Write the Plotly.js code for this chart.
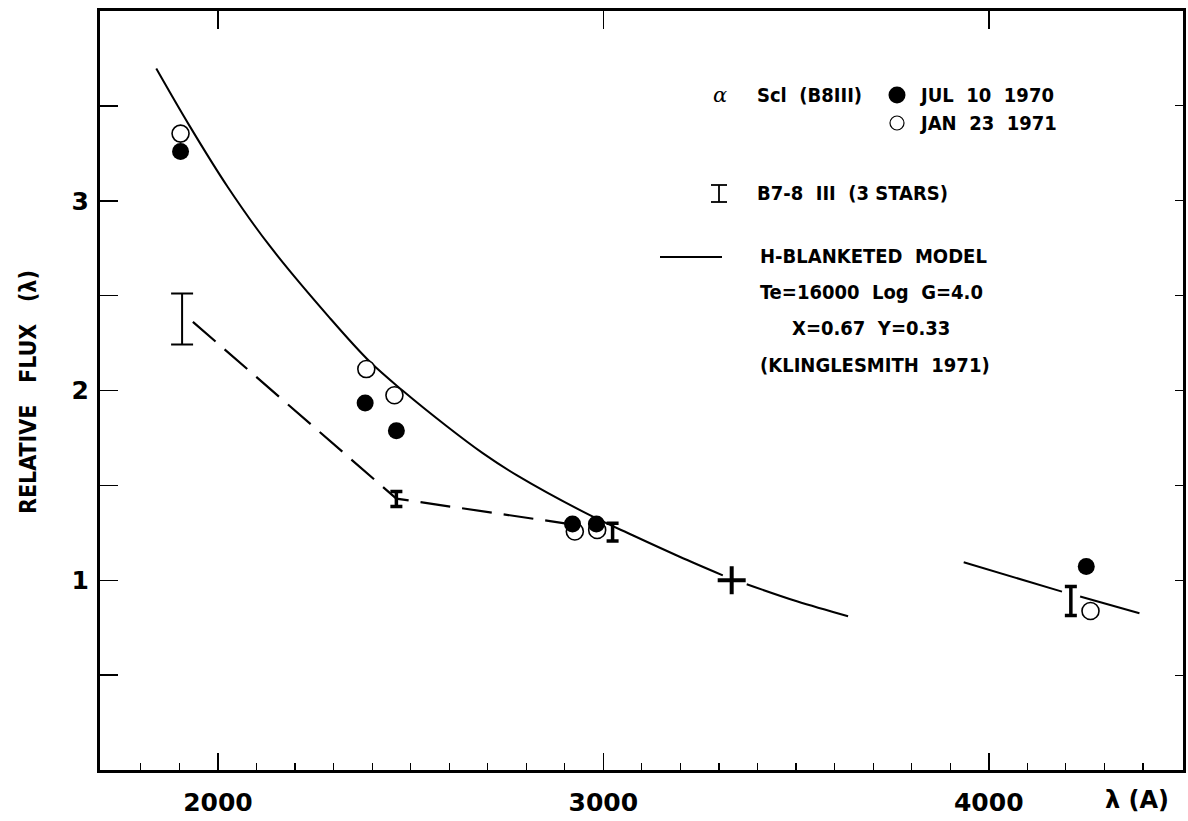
<!DOCTYPE html>
<html>
<head>
<meta charset="utf-8">
<script src="https://cdn.plot.ly/plotly-3.0.1.min.js"></script>
<style>html,body{margin:0;padding:0;background:#fff;}</style>
</head>
<body>
<div id="chart" style="width:1188px;height:821px;"></div>
<script>
// ---- data ----
// alpha Scl, JUL 10 1970 (filled circles)
const julX = [1903, 2382, 2463, 2920, 2982, 4253];
const julY = [3.26, 1.934, 1.788, 1.297, 1.297, 1.072];
// alpha Scl, JAN 23 1971 (open circles)
const janX = [1903, 2385, 2458, 2926, 2984, 4264];
const janY = [3.354, 2.113, 1.975, 1.257, 1.265, 0.838];
// B7-8 III (3 stars) ranges
const bandX = [1907, 2463, 3024, 4213];
const bandLow = [2.242, 1.389, 1.207, 0.814];
const bandHigh = [2.511, 1.468, 1.301, 0.967];
// dashed line joining the B7-8 III mean values
const dashX = [1935, 2463, 2900];
const dashY = [2.362, 1.43, 1.30];
// H-blanketed model (Klinglesmith 1971)
const modelX = [1840, 1926, 2025, 2134, 2290, 2393, 2479, 2593, 2687, 2775, 2965, 3076, 3198, 3310, null, 3372, 3502, 3635, null, 3935, 4190, null, 4237, 4391];
const modelY = [3.697, 3.396, 3.074, 2.763, 2.383, 2.154, 2.000, 1.813, 1.670, 1.554, 1.343, 1.237, 1.124, 1.026, null, 0.979, 0.889, 0.810, null, 1.095, 0.940, null, 0.914, 0.826];
// normalisation point
const normX = [3333];
const normY = [1.0];
// axis ticks
const xTickVals = [2000, 2500, 3000, 3500, 4000];
const xTickText = ['2000', '', '3000', '', '4000'];
const yTickVals = [0.5, 1, 1.5, 2, 2.5, 3, 3.5];
const yTickText = ['', '1', '', '2', '', '3', ''];
const xMinorVals = [];
for (let v = 1800; v <= 4400; v += 100) xMinorVals.push(v);

// ---- geometry helpers (pixel -> paper) ----
const L = 100, R = 1183, T = 11, B = 770;
const px = v => (v - L) / (R - L);
const py = v => (B - v) / (B - T);
const xRange = [1694, 4504];

const cond = 'DejaVu Sans Condensed';
const blk = '#000';

const bandMid = bandX.map((_, i) => (bandLow[i] + bandHigh[i]) / 2);
const bandErr = bandX.map((_, i) => (bandHigh[i] - bandLow[i]) / 2);
const pick = (arr, idx) => idx.map(i => arr[i]);

const traces = [
  {x: modelX, y: modelY, mode: 'lines', line: {color: blk, width: 2, shape: 'spline', smoothing: 1}, connectgaps: false, hoverinfo: 'skip'},
  {x: dashX, y: dashY, mode: 'lines', line: {color: blk, width: 2.2, dash: '30px,12px'}, hoverinfo: 'skip'},
  {x: pick(bandX, [0]), y: pick(bandMid, [0]), mode: 'markers', marker: {size: 1, opacity: 0},
   error_y: {type: 'data', array: pick(bandErr, [0]), color: blk, thickness: 2, width: 11}},
  {x: pick(bandX, [1, 2, 3]), y: pick(bandMid, [1, 2, 3]), mode: 'markers', marker: {size: 1, opacity: 0},
   error_y: {type: 'data', array: pick(bandErr, [1, 2, 3]), color: blk, thickness: 3.5, width: 6}},
  {x: janX, y: janY, mode: 'markers', marker: {size: 17, color: '#fff', line: {color: blk, width: 1.6}}},
  {x: julX, y: julY, mode: 'markers', marker: {size: 17, color: blk}},
  {x: normX, y: normY, mode: 'markers', marker: {symbol: 'cross-thin', size: 20, color: blk, line: {color: blk, width: 4}}},
  {x: [], y: [], xaxis: 'x2', yaxis: 'y2', mode: 'markers'}
];

const tickFont = {family: 'DejaVu Sans', size: 25, color: blk, weight: 'bold'};
const legFont = {family: cond, size: 20, color: blk, weight: 'bold'};

const ann = (text, x, y, opts = {}) => Object.assign({
  text: text, xref: 'paper', yref: 'paper', x: px(x), y: py(y),
  xanchor: 'left', yanchor: 'middle', showarrow: false, font: legFont
}, opts);

const nb = '\u00a0';
const annotations = [
  ann('α', 720, 95, {xanchor: 'center', font: {family: 'DejaVu Serif', size: 21, color: blk, style: 'italic'}}),
  ann('Scl' + nb + nb + '(B8III)', 755, 95),
  ann('JUL' + nb + nb + '10' + nb + nb + '1970', 918, 95),
  ann('JAN' + nb + nb + '23' + nb + nb + '1971', 918, 123),
  ann('B7-8' + nb + nb + 'III' + nb + nb + '(3' + nb + 'STARS)', 755, 193),
  ann('H-BLANKETED' + nb + nb + 'MODEL', 758, 256),
  ann('Te=16000' + nb + nb + 'Log' + nb + nb + 'G=4.0', 758, 292),
  ann('X=0.67' + nb + nb + 'Y=0.33', 790, 328),
  ann('(KLINGLESMITH' + nb + nb + '1971)', 758, 365),
  ann('RELATIVE' + nb + nb + nb + 'FLUX' + nb + nb + nb + '(λ)', 28, 392, {xanchor: 'center', textangle: -90, font: {family: cond, size: 23, color: blk, weight: 'bold'}}),
  ann('λ' + nb + '(A)', 1137, 800, {xanchor: 'center', font: {family: 'DejaVu Sans', size: 24, color: blk, weight: 'bold'}})
];

const pline = (x0, y0, x1, y1, w) => ({type: 'line', xref: 'paper', yref: 'paper',
  x0: px(x0), x1: px(x1), y0: py(y0), y1: py(y1), line: {color: blk, width: w}});

const shapes = [
  {type: 'circle', xref: 'paper', yref: 'paper', xsizemode: 'pixel', ysizemode: 'pixel',
   xanchor: px(897), yanchor: py(95), x0: -8.5, x1: 8.5, y0: -8.5, y1: 8.5, fillcolor: blk, line: {width: 0}},
  {type: 'circle', xref: 'paper', yref: 'paper', xsizemode: 'pixel', ysizemode: 'pixel',
   xanchor: px(897), yanchor: py(123), x0: -7, x1: 7, y0: -7, y1: 7, fillcolor: '#fff', line: {color: blk, width: 1.2}},
  // legend "I" symbol
  pline(719, 185, 719, 202, 1.8),
  pline(711, 185, 727, 185, 1.8),
  pline(711, 202, 727, 202, 1.8),
  // legend model line
  pline(660, 257, 722, 257, 2)
];

const layout = {
  width: 1188, height: 821,
  margin: {l: L, r: 1188 - R, t: T, b: 821 - B, pad: 0},
  paper_bgcolor: '#fff', plot_bgcolor: '#fff',
  showlegend: false,
  xaxis: {
    range: xRange, showgrid: false, zeroline: false,
    showline: true, linecolor: blk, linewidth: 3, mirror: true,
    tickmode: 'array', tickvals: xTickVals, ticktext: xTickText,
    ticks: 'inside', ticklen: 17, tickwidth: 1.5, tickcolor: blk,
    ticklabelstandoff: 8, tickfont: tickFont,
    minor: {tickmode: 'array', tickvals: xMinorVals, ticks: 'inside', ticklen: 7, tickwidth: 1.2, tickcolor: blk, showgrid: false}
  },
  yaxis: {
    range: [0, 4], showgrid: false, zeroline: false,
    showline: true, linecolor: blk, linewidth: 3, mirror: true,
    tickmode: 'array', tickvals: yTickVals, ticktext: yTickText,
    ticks: 'inside', ticklen: 18, tickwidth: 1.5, tickcolor: blk,
    ticklabelstandoff: 3, tickfont: tickFont
  },
  xaxis2: {
    overlaying: 'x', side: 'top', anchor: 'y2', range: xRange, showgrid: false, zeroline: false, showline: false,
    tickmode: 'array', tickvals: [2000, 3000, 4000], ticks: 'inside', ticklen: 18, tickwidth: 1.5, tickcolor: blk, showticklabels: false
  },
  yaxis2: {
    overlaying: 'y', side: 'right', anchor: 'x2', range: [0, 4], showgrid: false, zeroline: false, showline: false,
    tickmode: 'array', tickvals: yTickVals, ticks: 'inside', ticklen: 8, tickwidth: 1.2, tickcolor: blk, showticklabels: false
  },
  annotations: annotations,
  shapes: shapes
};

Plotly.newPlot('chart', traces, layout, {staticPlot: true, displayModeBar: false});
</script>
</body>
</html>
